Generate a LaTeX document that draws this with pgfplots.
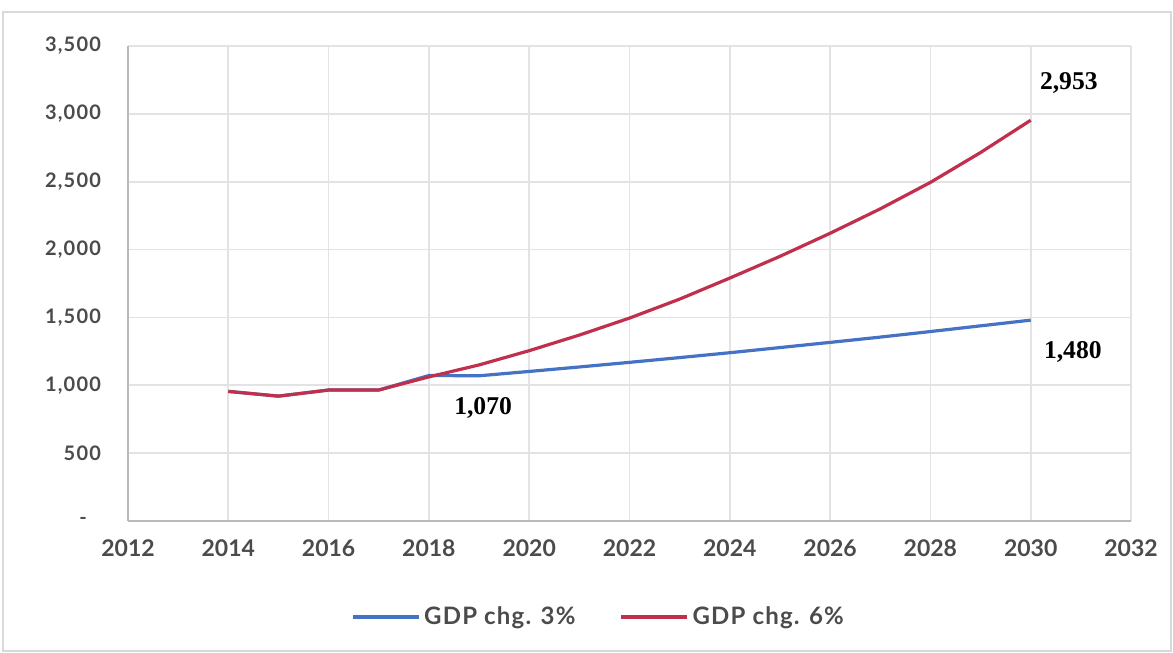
\documentclass[border=0pt]{standalone}
\usepackage{fontspec}
\setmainfont{Lato}
\newfontfamily\serifb{Liberation Serif}
\newfontfamily\ytickfont[LetterSpace=6]{Lato}
\newfontfamily\legfont[LetterSpace=5]{Lato}
\usepackage{pgfplots}
\pgfplotsset{compat=1.18}
\definecolor{blueS}{RGB}{68,114,196}
\definecolor{redS}{RGB}{192,48,76}
\definecolor{tickc}{RGB}{75,75,75}
\begin{document}
\begin{tikzpicture}
\path (0,0) rectangle (586.5pt,326.5pt);
\draw[gray!30, line width=0.8pt] (1.5pt,1pt) rectangle (585.5pt,320.5pt);
\begin{axis}[
  at={(64pt,66pt)}, anchor=south west,
  scale only axis, width=501.5pt, height=237.5pt,
  xmin=2012, xmax=2032, ymin=0, ymax=3500,
  xtick={2012,2014,...,2032},
  xticklabels={2012,2014,2016,2018,2020,2022,2024,2026,2028,2030,2032},
  ytick={0,500,...,3500},
  yticklabels={{-\kern7pt\relax},500,{1,000},{1,500},{2,000},{2,500},{3,000},{3,500}},
  grid=major,
  major grid style={gray!22, line width=0.9pt},
  axis lines=left,
  axis line style={-, gray!55, line width=0.9pt},
  major tick length=0pt,
  xticklabel style={font=\bfseries\fontsize{11.5}{13}\selectfont, text=tickc, yshift=-6pt},
  yticklabel style={font=\ytickfont\bfseries\fontsize{10}{12}\selectfont, text=tickc, xshift=-10pt},
  legend style={at={(0.47,-0.202)}, anchor=center, draw=none, fill=none,
    legend columns=2, font=\legfont\bfseries\fontsize{12}{14}\selectfont\color{tickc},
    /tikz/every even column/.append style={column sep=20pt}},
  legend image code/.code={\draw[#1, line width=1.6pt] (0pt,0pt) -- (33pt,0pt);},
]
\addplot[blueS, line width=1.6pt] coordinates {
 (2014,955) (2015,920) (2016,965) (2017,965) (2018,1072) (2019,1070)
 (2020,1102) (2021,1135) (2022,1169) (2023,1204) (2024,1240) (2025,1278)
 (2026,1316) (2027,1355) (2028,1396) (2029,1438) (2030,1480)};
\addlegendentry{GDP chg. 3\%}
\addplot[redS, line width=1.6pt] coordinates {
 (2014,955) (2015,920) (2016,965) (2017,965) (2018,1062) (2019,1150)
 (2020,1255) (2021,1370) (2022,1495) (2023,1635) (2024,1790) (2025,1950)
 (2026,2120) (2027,2300) (2028,2495) (2029,2715) (2030,2953)};
\addlegendentry{GDP chg. 6\%}
\node[font=\serifb\bfseries\fontsize{12.8}{14}\selectfont] at (axis cs:2030.76,3230) {2,953};
\node[font=\serifb\bfseries\fontsize{12.8}{14}\selectfont] at (axis cs:2030.84,1243) {1,480};
\node[font=\serifb\bfseries\fontsize{12.8}{14}\selectfont] at (axis cs:2019.08,831) {1,070};
\end{axis}
\end{tikzpicture}
\end{document}
